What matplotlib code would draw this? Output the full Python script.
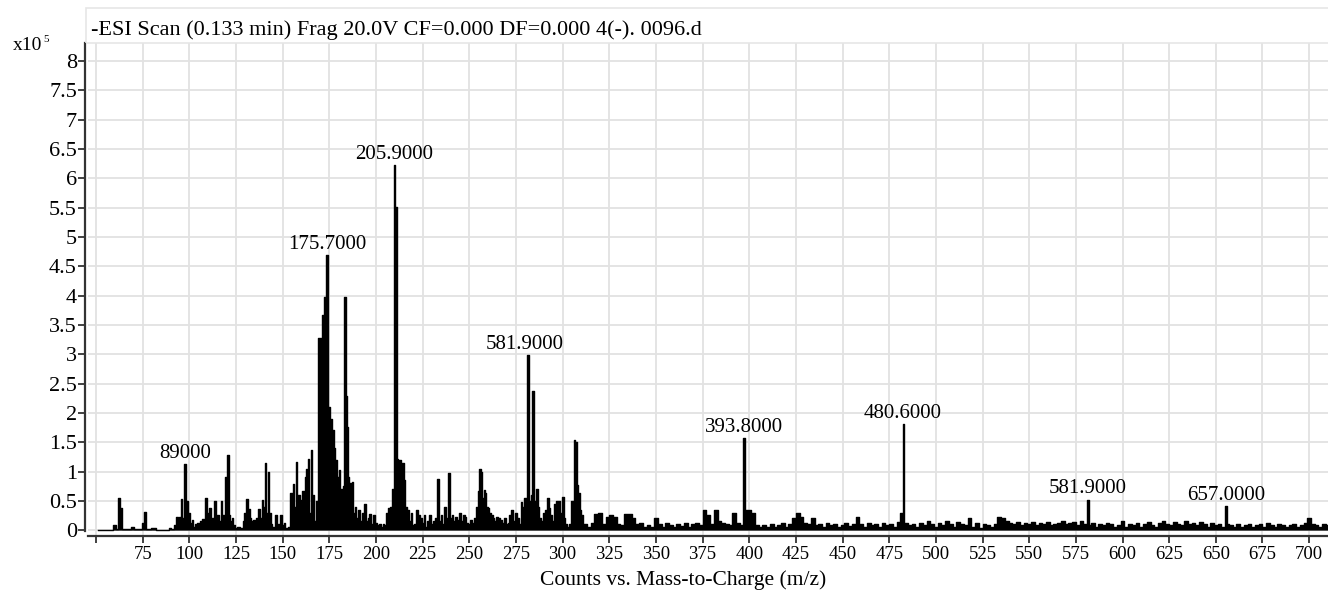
import numpy as np
import matplotlib
matplotlib.use("Agg")
import matplotlib.pyplot as plt
from matplotlib.patches import Rectangle

plt.rcParams['font.family'] = ['Liberation Serif', 'DejaVu Serif']

main_mz = [51, 58, 60.2, 61.5, 62.3, 63.6, 64.5, 68, 69.8, 71, 74, 75.3, 76.1, 77, 81.4, 82.5, 88.5, 89.5, 91,
           92.5, 93.3, 94.2, 95, 95.7, 96.5, 97.9, 98.8, 99.5, 100.2, 101, 101.8, 102.6, 103.5, 104.6, 105.5,
           106.3, 107.3, 108.2, 109.1, 110, 110.9, 111.8, 112.7, 113.6, 114.5, 115.4, 116.3, 117.1, 118, 118.9,
           119.8, 120.7, 121.5, 122.3, 123.2, 124, 125, 126.5, 128,
           129, 130, 130.9, 131.8, 132.7, 133.6, 134.5, 135.4, 136.3, 137.7, 138.5, 139.3, 140.1, 140.9, 141.6,
           142.2, 143, 144, 145, 146.3, 147.2, 148.2, 149.1, 150, 151, 152, 153.5,
           154.6, 155.3, 156, 156.6, 157.3, 158, 158.8, 159.5, 160.2, 160.9, 161.6, 162.2, 162.7, 163.4, 164,
           164.6, 165.3, 166, 166.7, 167.4, 168, 168.7,
           169.4, 170.5, 171.5, 172.7, 174.0, 175.1, 176.0, 176.9, 177.8, 178.7, 179.5, 180.4, 181.5, 182.7,
           183.4, 184.0, 184.7, 185.4, 186, 186.7, 187.5, 188.2, 189, 190, 191, 192, 193, 194, 195, 196, 197,
           198, 199, 200, 201, 202, 203, 204, 205, 206, 207, 208, 209, 209.8, 210.6, 211.4, 212.2, 213, 213.8,
           214.6, 215.4, 216.2, 217, 218, 219, 220, 221, 222, 223, 224, 225, 226, 227, 228, 229, 230, 231, 232,
           233.4, 234.2, 235, 236, 237, 238, 239.2, 240, 241, 242, 243, 244, 245, 246, 247, 248, 249, 250, 251,
           252, 253, 254, 254.8, 255.7, 256.5, 257.3, 258, 258.8, 259.5, 260.3, 261, 262, 263, 264, 265, 266,
           267, 268, 269, 270, 271, 272, 273, 274, 275, 276, 277, 278, 279, 280, 281.7, 282.5, 283.3, 284.1,
           285, 286.1, 287, 288, 289, 290, 291, 292, 293, 294, 295, 296, 297, 298, 299, 300, 301, 302, 303, 304,
           305.5, 306.4, 307.2, 308, 308.8, 309.6, 310.5, 311.5]
main_int = [0.0, 0.0, 0.09, 0.02, 0.55, 0.37, 0.02, 0.02, 0.05, 0.02, 0.02, 0.12, 0.31, 0.02, 0.04, 0.0, 0.0, 0.04, 0.02,
            0.08, 0.23, 0.15, 0.22, 0.53, 0.2, 1.12, 0.5, 0.3, 0.29, 0.12, 0.18, 0.05, 0.1, 0.12, 0.05,
            0.15, 0.19, 0.1, 0.54, 0.3, 0.37, 0.15, 0.2, 0.5, 0.12, 0.25, 0.15, 0.5, 0.25, 0.2,
            0.91, 1.28, 0.25, 0.15, 0.2, 0.08, 0.04, 0.05, 0.04,
            0.15, 0.3, 0.53, 0.36, 0.2, 0.15, 0.18, 0.1, 0.2, 0.36, 0.2, 0.51, 0.4, 1.14, 0.3,
            1.0, 0.3, 0.1, 0.05, 0.25, 0.05, 0.1, 0.25, 0.08, 0.12, 0.04, 0.05,
            0.63, 0.55, 0.79, 0.4, 1.17, 0.3, 0.6, 0.2, 0.51, 0.67, 0.3, 0.9, 1.05, 0.4, 1.22,
            0.3, 1.36, 0.2, 0.6, 0.15, 0.5, 0.1,
            3.27, 3.27, 3.67, 3.98, 4.69, 2.1, 1.9, 1.71, 1.4, 1.19, 0.9, 1.02, 0.7, 0.75,
            3.98, 2.28, 1.76, 0.9, 0.8, 0.4, 0.82, 0.3, 0.4, 0.2, 0.35, 0.15, 0.3, 0.45, 0.15, 0.2, 0.28,
            0.1, 0.25, 0.12, 0.08, 0.1, 0.05, 0.1, 0.08, 0.3, 0.38, 0.4, 0.7, 6.23, 5.52, 1.22, 0.9, 1.19, 0.5,
            1.14, 0.85, 0.4, 0.35, 0.15, 0.3, 0.08, 0.1, 0.35, 0.25, 0.2, 0.12, 0.26, 0.05, 0.15, 0.25, 0.1, 0.15, 0.2,
            0.88, 0.15, 0.25, 0.1, 0.4, 0.2, 0.97, 0.2, 0.25, 0.15, 0.22, 0.18, 0.3, 0.15, 0.25, 0.22, 0.12, 0.1, 0.18,
            0.12, 0.2, 0.4, 0.67, 1.05, 1.0, 0.55, 0.68, 0.63, 0.4, 0.38, 0.3, 0.25, 0.2, 0.15, 0.22, 0.2,
            0.18, 0.12, 0.2, 0.1, 0.12, 0.25, 0.34, 0.15, 0.3, 0.2, 0.1, 0.48, 0.4, 0.55, 2.99, 0.5, 0.6, 2.37,
            0.5, 0.71, 0.4, 0.2, 0.15, 0.3, 0.35, 0.54, 0.37, 0.25, 0.15, 0.45, 0.49, 0.5, 0.3, 0.57, 0.2, 0.1, 0.05, 0.1,
            0.5, 1.54, 1.5, 0.77, 0.63, 0.35, 0.25, 0.1]

# baseline noise above m/z 310, one reading every 2 m/z starting at 312
noise_start = 312
noise_int = [0.10, 0.06, 0.12, 0.28, 0.30, 0.10, 0.22, 0.25, 0.22, 0.10,
             0.08, 0.28, 0.28, 0.20, 0.10, 0.12, 0.06, 0.08, 0.05, 0.20,
             0.10, 0.06, 0.12, 0.08, 0.05, 0.10, 0.07, 0.12, 0.06, 0.10,
             0.12, 0.08, 0.34, 0.25, 0.10, 0.34, 0.15, 0.12, 0.10, 0.08,
             0.30, 0.12, 0.08, 0.34, 0.34, 0.30, 0.08, 0.06, 0.08, 0.05,
             0.10, 0.06, 0.08, 0.12, 0.06, 0.10, 0.20, 0.29, 0.22, 0.12,
             0.10, 0.20, 0.08, 0.10, 0.06, 0.12, 0.08, 0.10, 0.06, 0.08,
             0.12, 0.07, 0.10, 0.23, 0.10, 0.06, 0.12, 0.08, 0.10, 0.06,
             0.12, 0.08, 0.10, 0.06, 0.14, 0.29, 0.12, 0.08, 0.10, 0.06,
             0.12, 0.08, 0.16, 0.10, 0.06, 0.12, 0.08, 0.15, 0.10, 0.06,
             0.14, 0.10, 0.08, 0.20, 0.06, 0.12, 0.04, 0.10, 0.08, 0.06,
             0.10, 0.22, 0.20, 0.15, 0.12, 0.10, 0.14, 0.08, 0.12, 0.10,
             0.14, 0.08, 0.12, 0.10, 0.14, 0.08, 0.10, 0.12, 0.16, 0.10,
             0.12, 0.14, 0.08, 0.15, 0.10, 0.08, 0.12, 0.06, 0.10, 0.08,
             0.12, 0.10, 0.06, 0.08, 0.16, 0.06, 0.10, 0.08, 0.12, 0.06,
             0.10, 0.14, 0.08, 0.06, 0.12, 0.16, 0.10, 0.08, 0.14, 0.10,
             0.08, 0.16, 0.10, 0.12, 0.08, 0.14, 0.10, 0.06, 0.12, 0.08,
             0.10, 0.06, 0.10, 0.08, 0.06, 0.10, 0.06, 0.08, 0.10, 0.06,
             0.08, 0.10, 0.06, 0.12, 0.08, 0.06, 0.10, 0.08, 0.06, 0.08,
             0.10, 0.06, 0.08, 0.12, 0.20, 0.10, 0.08, 0.06, 0.10, 0.08]

# isolated peaks sitting on the noise
extra_mz = [397.2, 482.3, 581.6, 655.8]
extra_int = [1.57, 1.81, 0.52, 0.41]

# annotated peaks: label, m/z, height
label_txt = ["89000", "175.7000", "205.9000", "581.9000", "393.8000", "480.6000", "581.9000", "657.0000"]
label_mz = [97.9, 174.0, 209.8, 279.8, 397.2, 482.3, 581.6, 655.8]
label_int = [1.12, 4.69, 6.23, 2.99, 1.57, 1.81, 0.52, 0.41]

title_txt = "-ESI Scan (0.133 min) Frag 20.0V CF=0.000 DF=0.000 4(-). 0096.d"
xlabel_txt = "Counts vs. Mass-to-Charge (m/z)"

noise_mz = noise_start + 2 * np.arange(len(noise_int))
mz = np.concatenate([main_mz, noise_mz, extra_mz])
inten = np.concatenate([main_int, noise_int, extra_int])
order = np.argsort(mz)
mz = mz[order]
inten = inten[order]

W, H = 1328, 592
fig = plt.figure(figsize=(W / 100, H / 100), dpi=100)
ax = fig.add_axes([88 / W, 1 - 536 / H, (W - 88) / W, (536 - 43) / H])

for s in ['top', 'right']:
    ax.spines[s].set_visible(False)
ax.spines['left'].set_position(('outward', 2))
ax.spines['left'].set_color('#333333')
ax.spines['left'].set_linewidth(1.6)
ax.spines['left'].set_bounds(-0.02, 8.31)
ax.spines['bottom'].set_color('#333333')
ax.spines['bottom'].set_linewidth(1.6)

ax.fill_between(mz, 0, inten, step='mid', color='black', lw=0)
ax.step(mz, inten, where='mid', color='black', lw=1.0)

ax.set_xlim(45.7, 710.1)
ax.set_ylim(-0.10, 8.31)

xt = np.arange(50, 701, 25)
ax.set_xticks(xt)
ax.set_xticklabels(["" if v == 50 else str(v) for v in xt])
yt = np.arange(0, 8.01, 0.5)
ax.set_yticks(yt)
ax.set_yticklabels([f"{v:g}" for v in yt])
ax.tick_params(axis='x', direction='out', length=5, width=1.3, color='#333333', pad=2, labelsize=13.5)
ax.tick_params(axis='y', direction='out', length=5, width=1.3, color='#333333', pad=1, labelsize=16)

ax.grid(True, color='#e2e2e2', lw=1.3)
ax.set_axisbelow(True)

for t, x, y in zip(label_txt, label_mz, label_int):
    ax.text(x, y + 0.02, t, ha='center', va='bottom', fontsize=15)

fig.text(683 / W, 1 - 580 / H, xlabel_txt, fontsize=15.5, ha='center', va='center')

# light frame round the title strip
fig.add_artist(Rectangle((86 / W, 1 - 43 / H), 1, 35 / H, transform=fig.transFigure,
                         fill=False, edgecolor='#e6e6e6', lw=1.2))
fig.text(91 / W, 1 - 30 / H, title_txt, fontsize=16, ha='left', va='center')
fig.text(42 / W, 1 - 45 / H, "x10", fontsize=14, ha='right', va='center')
fig.text(43 / W, 1 - 40 / H, "5", fontsize=8, ha='left', va='center')

fig.savefig("out.png", dpi=100)
